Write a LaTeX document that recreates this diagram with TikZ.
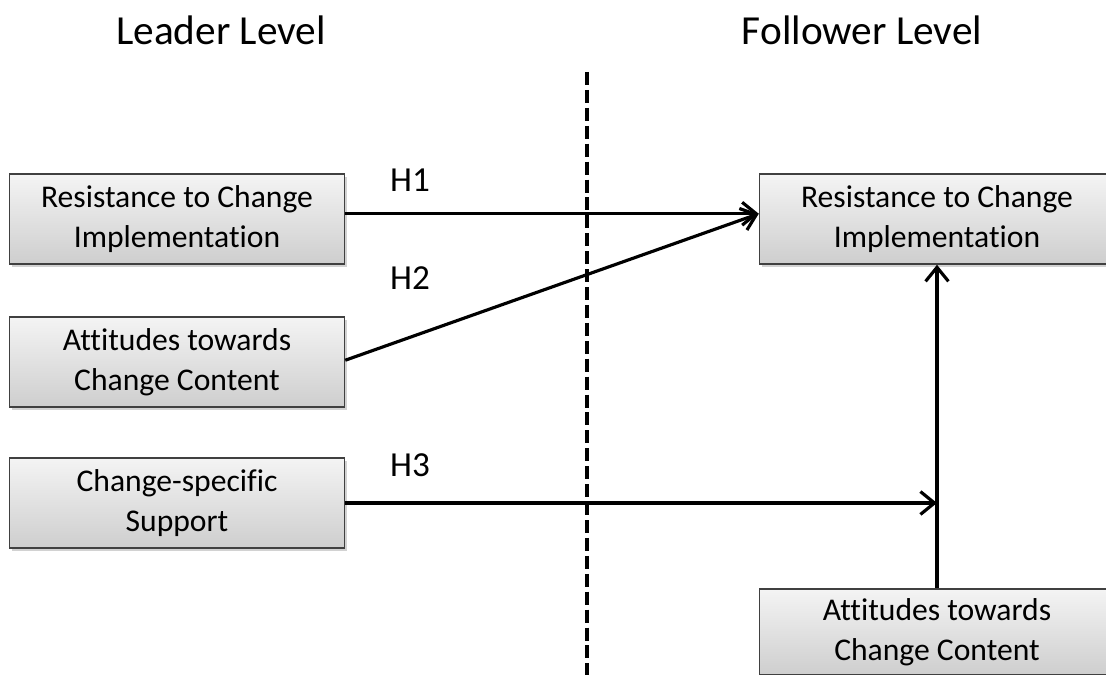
\documentclass[tikz,border=0pt]{standalone}
\usepackage{fontspec}
\setmainfont{Carlito}[Ligatures=NoCommon]
\usepackage{tikz}
\usetikzlibrary{positioning, arrows.meta, shadows}
\definecolor{boxTop}{RGB}{244, 244, 244}
\definecolor{boxBottom}{RGB}{206, 206, 206}
\definecolor{boxLine}{RGB}{64, 64, 64}

\begin{document}
\begin{tikzpicture}[
        x=0.02cm, y=-0.02cm,
        font=\fontsize{18}{22.7}\selectfont,
        construct/.style={
            rectangle, draw=boxLine, line width=0.9pt,
            top color=boxTop, bottom color=boxBottom,
            drop shadow={shadow xshift=1.5pt, shadow yshift=-1.5pt, fill=black!35},
            minimum width=6.7cm, minimum height=1.8cm, align=center, inner sep=4pt
        },
        level/.style={font=\fontsize{23.5}{27}\selectfont},
        hyp/.style={font=\fontsize{20}{24}\selectfont},
        path/.style={draw=black, line width=1.8pt, -{Straight Barb[length=8pt, width=13pt, line width=1.8pt]}},
        divider/.style={draw=black, line width=1.8pt, dash pattern=on 7.4pt off 2.8pt}
    ]
    \useasboundingbox (0,0) rectangle (1106,675);

    % LEVEL HEADERS
    \node[level] (leader) at (221, 30) {Leader Level};
    \node[level] (follower) at (862, 30) {Follower Level};

    % DIVIDER
    \coordinate (divtop) at (587, 72);
    \coordinate (divbot) at (587, 675);
    \draw[divider] (divtop) -- (divbot);

    % LEADER LEVEL CONSTRUCTS
    \node[construct] (lrc) at (177, 219) {Resistance to Change\\Implementation};
    \node[construct] (lat) at (177, 362) {Attitudes towards\\Change Content};
    \node[construct] (lcs) at (177, 503) {Change-specific\\Support};

    % FOLLOWER LEVEL CONSTRUCTS
    \node[construct, minimum width=7.1cm] (frc) at (937, 219) {Resistance to Change\\Implementation};
    \node[construct, minimum width=7.1cm, minimum height=1.72cm] (fat) at (937, 632) {Attitudes towards\\Change Content};

    % MODERATION POINT ON THE FOLLOWER PATH
    \coordinate (mod) at (lcs.east -| fat.north);

    % HYPOTHESES
    \draw[path] ([yshift=3pt]lrc.east) -- ([yshift=3pt]lrc.east -| frc.west);
    \draw[path] ([yshift=1pt]lat.east) -- ([yshift=3pt]frc.west);
    \draw[path] (lcs.east) -- (mod);
    \draw[path] (fat.north) -- (frc.south);

    \node[hyp] (h1) at (410, 180) {H1};
    \node[hyp] (h2) at (410, 278) {H2};
    \node[hyp] (h3) at (410, 465) {H3};

\end{tikzpicture}
\end{document}
